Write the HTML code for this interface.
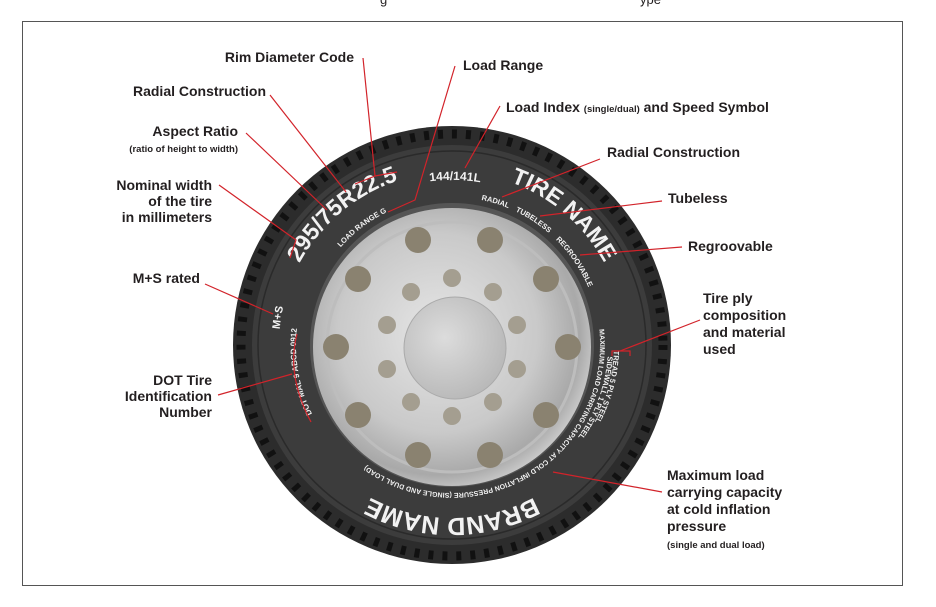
<!DOCTYPE html>
<html><head><meta charset="utf-8"><style>
html,body{margin:0;padding:0;background:#fff;width:936px;height:607px;overflow:hidden}
svg{display:block}
.l{font-family:"Liberation Sans",sans-serif;font-weight:bold;font-size:14px;fill:#231f20}
.s{font-family:"Liberation Sans",sans-serif;font-weight:bold;font-size:9.5px;fill:#231f20}
.t{font-family:"Liberation Sans",sans-serif;font-weight:bold;fill:#f2f2f2}
.r{stroke:#d2232a;stroke-width:1.2;fill:none}
</style></head><body>
<svg width="936" height="607" viewBox="0 0 936 607">
<defs>
<radialGradient id="w" cx="0.45" cy="0.45" r="0.6">
<stop offset="0" stop-color="#e6e6e6"/><stop offset="0.6" stop-color="#c9c9c9"/><stop offset="0.85" stop-color="#a9a9a9"/><stop offset="1" stop-color="#d8d8d8"/></radialGradient>
<radialGradient id="h" cx="0.4" cy="0.4" r="0.7"><stop offset="0" stop-color="#dcdcdc"/><stop offset="1" stop-color="#b5b5b5"/></radialGradient>
<path id="c173" d="M279,345 A173,173 0 1 1 625,345 A173,173 0 1 1 279,345"/>
<path id="c165" d="M287,345 A165,165 0 1 1 617,345 A165,165 0 1 1 287,345"/>
<path id="c148" d="M304,345 A148,148 0 1 1 600,345 A148,148 0 1 1 304,345"/>
<path id="c156" d="M296,345 A156,156 0 1 1 608,345 A156,156 0 1 1 296,345"/>
<path id="c156b" d="M452,501 A156,156 0 1 1 452,189 A156,156 0 1 1 452,501"/>
<path id="c162" d="M290,345 A162,162 0 1 1 614,345 A162,162 0 1 1 290,345"/>
</defs>
<text x="380" y="4" class="s" style="font-weight:normal;font-size:13px">g</text>
<text x="640" y="4" class="s" style="font-weight:normal;font-size:13px">ype</text>
<rect x="22.5" y="21.5" width="880" height="564" fill="none" stroke="#555" stroke-width="1"/>

<!-- tire -->
<circle cx="452" cy="345" r="219" fill="#2c2c2c"/>
<circle cx="452" cy="345" r="211" fill="none" stroke="#111" stroke-width="9" stroke-dasharray="5 9"/>
<circle cx="452" cy="345" r="200" fill="#3c3c3c"/>
<circle cx="452" cy="345" r="194" fill="none" stroke="#2a2a2a" stroke-width="1.5"/>
<circle cx="452" cy="345" r="142" fill="#555"/>
<circle cx="452" cy="347" r="139" fill="url(#w)"/>
<circle cx="452" cy="347" r="125" fill="none" stroke="#bdbdbd" stroke-width="3"/>
<g fill="#8a8270">
<circle cx="418" cy="240" r="13"/><circle cx="490" cy="240" r="13"/>
<circle cx="546" cy="279" r="13"/><circle cx="568" cy="347" r="13"/>
<circle cx="546" cy="415" r="13"/><circle cx="490" cy="455" r="13"/>
<circle cx="418" cy="455" r="13"/><circle cx="358" cy="415" r="13"/>
<circle cx="336" cy="347" r="13"/><circle cx="358" cy="279" r="13"/>
</g>
<g fill="#a49e90">
<circle cx="452" cy="278" r="9"/><circle cx="493" cy="292" r="9"/><circle cx="517" cy="325" r="9"/>
<circle cx="517" cy="369" r="9"/><circle cx="493" cy="402" r="9"/><circle cx="452" cy="416" r="9"/>
<circle cx="411" cy="402" r="9"/><circle cx="387" cy="369" r="9"/><circle cx="387" cy="325" r="9"/><circle cx="411" cy="292" r="9"/>
</g>
<circle cx="455" cy="348" r="51" fill="url(#h)" stroke="#aaa"/>

<!-- tire texts -->
<text class="t" font-size="23"><textPath href="#c173" startOffset="13.9%" text-anchor="middle">295/75R22.5</textPath></text>
<text class="t" font-size="12"><textPath href="#c165" startOffset="25.3%" text-anchor="middle">144/141L</textPath></text>
<text class="t" font-size="7.5" font-weight="normal"><textPath href="#c148" startOffset="14.6%" text-anchor="middle">LOAD RANGE G</textPath></text>
<text class="t" font-size="7.5" font-weight="normal"><textPath href="#c148" startOffset="29.7%" text-anchor="middle">RADIAL</textPath></text>
<text class="t" font-size="7.5" font-weight="normal"><textPath href="#c148" startOffset="34.2%" text-anchor="middle">TUBELESS</textPath></text>
<text class="t" font-size="7.5" font-weight="normal"><textPath href="#c148" startOffset="40.5%" text-anchor="middle">REGROOVABLE</textPath></text>
<text class="t" font-size="23"><textPath href="#c173" startOffset="36.3%" text-anchor="middle">TIRE NAME</textPath></text>
<text class="t" font-size="11"><textPath href="#c173" startOffset="2.5%" text-anchor="middle">M+S</textPath></text>
<text class="t" font-size="8" font-weight="normal"><textPath href="#c156b" startOffset="22.2%" text-anchor="middle">DOT MAL 9 ABCD 0912</textPath></text>
<text class="t" font-size="7.5" font-weight="normal"><textPath href="#c162" startOffset="54.2%" text-anchor="middle">TREAD 5 PLY STEEL</textPath></text>
<text class="t" font-size="7.5" font-weight="normal"><textPath href="#c156" startOffset="55.6%" text-anchor="middle">SIDEWALL 1 PLY STEEL</textPath></text>
<text class="t" font-size="7" font-weight="normal"><textPath href="#c148" startOffset="48.3%" textLength="340">MAXIMUM LOAD CARRYING CAPACITY AT COLD INFLATION PRESSURE (SINGLE AND DUAL LOAD)</textPath></text>
<text class="t" font-size="25"><textPath href="#c173" startOffset="75%" text-anchor="middle">BRAND NAME</textPath></text>

<!-- leader lines -->
<polyline class="r" points="363,58 375,176 355,184"/>
<line class="r" x1="375" y1="176" x2="397" y2="172"/>
<polyline class="r" points="455,66 415,200 388,212"/>
<line class="r" x1="270" y1="95" x2="346" y2="192"/>
<line class="r" x1="500" y1="106" x2="465" y2="168"/>
<line class="r" x1="246" y1="133" x2="327" y2="210"/>
<line class="r" x1="600" y1="159" x2="502" y2="197"/>
<polyline class="r" points="219,185 296,240 290,258"/>
<line class="r" x1="662" y1="201" x2="540" y2="216"/>
<line class="r" x1="682" y1="247" x2="580" y2="255"/>
<line class="r" x1="205" y1="284" x2="273" y2="314"/>
<line class="r" x1="700" y1="320" x2="620" y2="351"/>
<polyline class="r" points="612,356 612,351 630,351 630,356"/>
<line class="r" x1="218" y1="395" x2="292" y2="374"/>
<path class="r" d="M297,334 Q286,375 311,422"/>
<line class="r" x1="662" y1="492" x2="553" y2="472"/>

<!-- labels -->
<text class="l" x="354" y="62" text-anchor="end">Rim Diameter Code</text>
<text class="l" x="463" y="70">Load Range</text>
<text class="l" x="266" y="96" text-anchor="end">Radial Construction</text>
<text class="l" x="506" y="112">Load Index <tspan class="s">(single/dual)</tspan> and Speed Symbol</text>
<text class="l" x="238" y="136" text-anchor="end">Aspect Ratio</text>
<text class="s" x="238" y="152" text-anchor="end">(ratio of height to width)</text>
<text class="l" x="607" y="157">Radial Construction</text>
<text class="l" x="212" y="190" text-anchor="end">Nominal width</text>
<text class="l" x="212" y="206" text-anchor="end">of the tire</text>
<text class="l" x="212" y="222" text-anchor="end">in millimeters</text>
<text class="l" x="668" y="203">Tubeless</text>
<text class="l" x="688" y="251">Regroovable</text>
<text class="l" x="200" y="283" text-anchor="end">M+S rated</text>
<text class="l" x="703" y="303">Tire ply</text>
<text class="l" x="703" y="320">composition</text>
<text class="l" x="703" y="337">and material</text>
<text class="l" x="703" y="354">used</text>
<text class="l" x="212" y="385" text-anchor="end">DOT Tire</text>
<text class="l" x="212" y="401" text-anchor="end">Identification</text>
<text class="l" x="212" y="417" text-anchor="end">Number</text>
<text class="l" x="667" y="480">Maximum load</text>
<text class="l" x="667" y="497">carrying capacity</text>
<text class="l" x="667" y="514">at cold inflation</text>
<text class="l" x="667" y="531">pressure</text>
<text class="s" x="667" y="548">(single and dual load)</text>
</svg>
</body></html>
